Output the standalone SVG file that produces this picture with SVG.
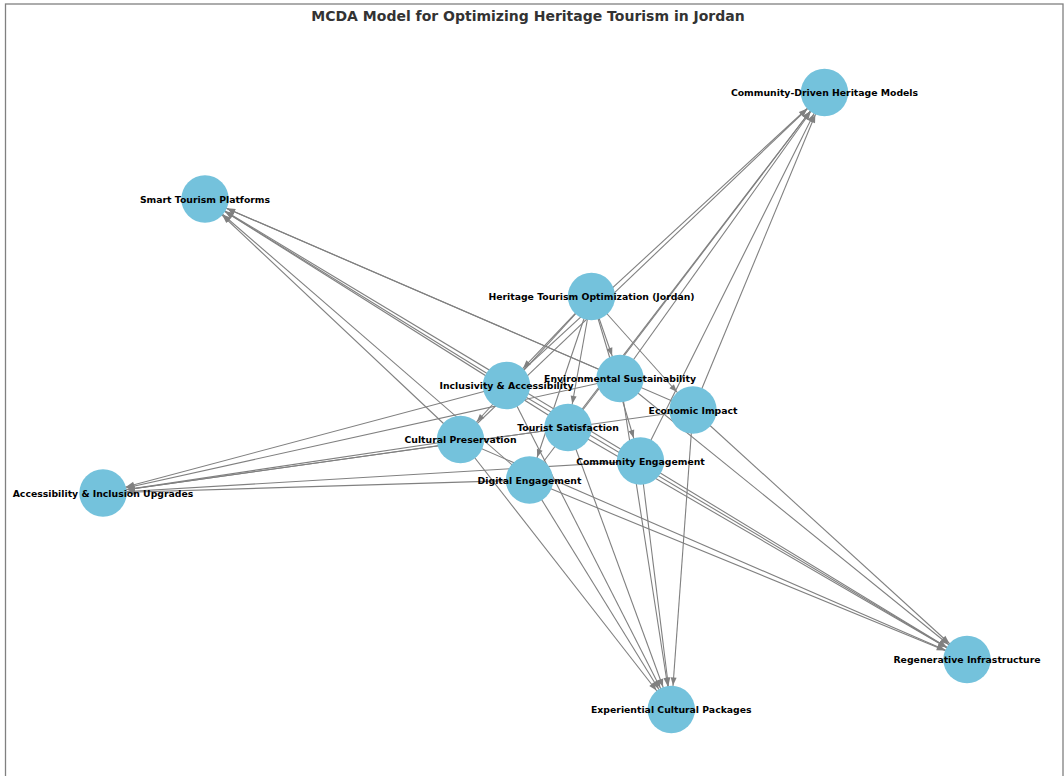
<svg xmlns="http://www.w3.org/2000/svg" width="1064" height="776" viewBox="0 0 1064 776">
<style>
.edge{stroke:#808080;stroke-width:1.1;fill:none;marker-end:url(#arr)}
.node circle{fill:#74c2dc}
.node text{font-family:"DejaVu Sans","Liberation Sans",sans-serif;font-weight:bold;font-size:9.3px;fill:#000;text-anchor:middle;dominant-baseline:central}
.title{font-family:"DejaVu Sans","Liberation Sans",sans-serif;font-weight:bold;font-size:14px;fill:#333;text-anchor:middle}
</style>
<defs>
<marker id="arr" markerUnits="userSpaceOnUse" markerWidth="40" markerHeight="10" refX="32" refY="3" orient="auto" overflow="visible">
<path d="M0,0 L8,3 L0,6 z" fill="#808080"/>
</marker>
</defs>
<rect x="0" y="0" width="1064" height="776" fill="#fff"/>
<rect x="5.5" y="4" width="1057.5" height="900" fill="none" stroke="#808080" stroke-width="1.3"/>
<text class="title" x="528" y="20.5">MCDA Model for Optimizing Heritage Tourism in Jordan</text>
<g id="edges">
<line class="edge" x1="591.5" y1="296.5" x2="620" y2="378.5"/>
<line class="edge" x1="591.5" y1="296.5" x2="506.5" y2="385.5"/>
<line class="edge" x1="591.5" y1="296.5" x2="693" y2="410"/>
<line class="edge" x1="591.5" y1="296.5" x2="568" y2="427.5"/>
<line class="edge" x1="591.5" y1="296.5" x2="460.5" y2="439.5"/>
<line class="edge" x1="591.5" y1="296.5" x2="640.5" y2="461"/>
<line class="edge" x1="591.5" y1="296.5" x2="529.5" y2="480"/>
<line class="edge" x1="620" y1="378.5" x2="824.5" y2="92.5"/>
<line class="edge" x1="620" y1="378.5" x2="205" y2="199"/>
<line class="edge" x1="620" y1="378.5" x2="103" y2="493"/>
<line class="edge" x1="620" y1="378.5" x2="967" y2="659.5"/>
<line class="edge" x1="620" y1="378.5" x2="671.3" y2="709.5"/>
<line class="edge" x1="506.5" y1="385.5" x2="824.5" y2="92.5"/>
<line class="edge" x1="506.5" y1="385.5" x2="205" y2="199"/>
<line class="edge" x1="506.5" y1="385.5" x2="103" y2="493"/>
<line class="edge" x1="506.5" y1="385.5" x2="967" y2="659.5"/>
<line class="edge" x1="506.5" y1="385.5" x2="671.3" y2="709.5"/>
<line class="edge" x1="693" y1="410" x2="824.5" y2="92.5"/>
<line class="edge" x1="693" y1="410" x2="205" y2="199"/>
<line class="edge" x1="693" y1="410" x2="103" y2="493"/>
<line class="edge" x1="693" y1="410" x2="967" y2="659.5"/>
<line class="edge" x1="693" y1="410" x2="671.3" y2="709.5"/>
<line class="edge" x1="568" y1="427.5" x2="824.5" y2="92.5"/>
<line class="edge" x1="568" y1="427.5" x2="205" y2="199"/>
<line class="edge" x1="568" y1="427.5" x2="103" y2="493"/>
<line class="edge" x1="568" y1="427.5" x2="967" y2="659.5"/>
<line class="edge" x1="568" y1="427.5" x2="671.3" y2="709.5"/>
<line class="edge" x1="460.5" y1="439.5" x2="824.5" y2="92.5"/>
<line class="edge" x1="460.5" y1="439.5" x2="205" y2="199"/>
<line class="edge" x1="460.5" y1="439.5" x2="103" y2="493"/>
<line class="edge" x1="460.5" y1="439.5" x2="967" y2="659.5"/>
<line class="edge" x1="460.5" y1="439.5" x2="671.3" y2="709.5"/>
<line class="edge" x1="640.5" y1="461" x2="824.5" y2="92.5"/>
<line class="edge" x1="640.5" y1="461" x2="205" y2="199"/>
<line class="edge" x1="640.5" y1="461" x2="103" y2="493"/>
<line class="edge" x1="640.5" y1="461" x2="967" y2="659.5"/>
<line class="edge" x1="640.5" y1="461" x2="671.3" y2="709.5"/>
<line class="edge" x1="529.5" y1="480" x2="824.5" y2="92.5"/>
<line class="edge" x1="529.5" y1="480" x2="205" y2="199"/>
<line class="edge" x1="529.5" y1="480" x2="103" y2="493"/>
<line class="edge" x1="529.5" y1="480" x2="967" y2="659.5"/>
<line class="edge" x1="529.5" y1="480" x2="671.3" y2="709.5"/>
</g>
<g id="node-heritage" class="node"><circle cx="591.5" cy="296.5" r="23.7"/></g>
<g id="node-env" class="node"><circle cx="620" cy="378.5" r="23.7"/></g>
<g id="node-incl" class="node"><circle cx="506.5" cy="385.5" r="23.7"/></g>
<g id="node-econ" class="node"><circle cx="693" cy="410" r="23.7"/></g>
<g id="node-tourist" class="node"><circle cx="568" cy="427.5" r="23.7"/></g>
<g id="node-cultural" class="node"><circle cx="460.5" cy="439.5" r="23.7"/></g>
<g id="node-community" class="node"><circle cx="640.5" cy="461" r="23.7"/></g>
<g id="node-digital" class="node"><circle cx="529.5" cy="480" r="23.7"/></g>
<g id="node-cdh" class="node"><circle cx="824.5" cy="92.5" r="23.7"/><text x="824.5" y="92.5">Community-Driven Heritage Models</text></g>
<g id="node-smart" class="node"><circle cx="205" cy="199" r="23.7"/><text x="205" y="199">Smart Tourism Platforms</text></g>
<g id="node-access" class="node"><circle cx="103" cy="493" r="23.7"/><text x="103" y="493">Accessibility &amp; Inclusion Upgrades</text></g>
<g id="node-regen" class="node"><circle cx="967" cy="659.5" r="23.7"/><text x="967" y="659.5">Regenerative Infrastructure</text></g>
<g id="node-exper" class="node"><circle cx="671.3" cy="709.5" r="23.7"/><text x="671.3" y="709.5">Experiential Cultural Packages</text></g>
<g id="labels" class="node">
<text x="591.5" y="296.5">Heritage Tourism Optimization (Jordan)</text>
<text x="620" y="378.5">Environmental Sustainability</text>
<text x="506.5" y="385.5">Inclusivity &amp; Accessibility</text>
<text x="693" y="410">Economic Impact</text>
<text x="568" y="427.5">Tourist Satisfaction</text>
<text x="460.5" y="439.5">Cultural Preservation</text>
<text x="640.5" y="461">Community Engagement</text>
<text x="529.5" y="480">Digital Engagement</text>
</g>
</svg>
